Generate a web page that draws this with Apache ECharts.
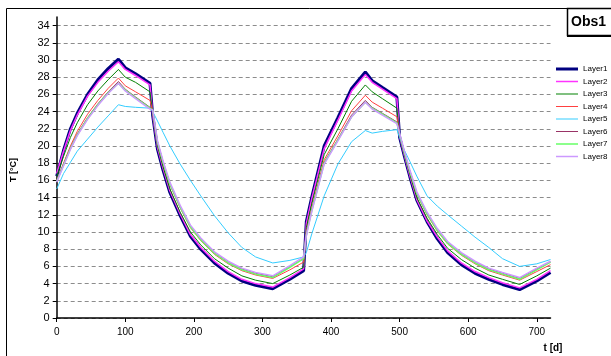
<!DOCTYPE html>
<html>
<head>
<meta charset="utf-8">
<script src="https://cdn.jsdelivr.net/npm/echarts@6/dist/echarts.min.js"></script>
<style>
  html, body { margin: 0; padding: 0; background: #fff; }
  #chart { width: 611px; height: 356px; }
</style>
</head>
<body>
<div id="chart"></div>
<script>
// time axis (days)
const days = [0, 10, 20, 30, 45, 60, 75, 90, 100, 115, 136, 140, 147, 155, 165, 180, 195, 210, 230, 250, 270, 290, 315, 340,
  360, 364, 372, 390, 410, 430, 450, 460, 475, 496, 500, 507, 515, 525, 540, 555, 570, 590, 610, 630, 650, 675, 700, 720];

const layer1 = [16.5, 19.5, 22.0, 23.8, 26.0, 27.7, 29.0, 30.1, 29.1, 28.4, 27.3, 23.5, 19.6, 17.2, 14.6, 11.9, 9.5, 8.0, 6.4, 5.2, 4.3, 3.8, 3.4, 4.5,
  5.5, 11.2, 14.1, 20.0, 23.3, 26.7, 28.6, 27.6, 26.8, 25.7, 21.0, 18.8, 16.4, 13.7, 11.2, 9.2, 7.6, 6.2, 5.2, 4.5, 3.9, 3.3, 4.3, 5.3];
const layer2 = [16.8, 19.4, 21.8, 23.6, 25.8, 27.4, 28.7, 29.8, 28.9, 28.2, 27.1, 23.6, 19.8, 17.4, 14.8, 12.1, 9.7, 8.2, 6.6, 5.4, 4.5, 4.0, 3.6, 4.7,
  5.7, 11.0, 13.9, 19.7, 23.0, 26.4, 28.3, 27.4, 26.6, 25.5, 21.1, 18.9, 16.5, 13.8, 11.3, 9.4, 7.8, 6.4, 5.4, 4.7, 4.1, 3.5, 4.5, 5.5];
const layer3 = [16.5, 18.8, 21.0, 22.7, 24.8, 26.4, 27.7, 28.9, 28.0, 27.4, 26.3, 23.8, 20.0, 17.6, 15.0, 12.3, 10.0, 8.5, 6.9, 5.8, 4.9, 4.4, 4.0, 5.0,
  5.9, 10.5, 13.3, 19.0, 22.0, 25.2, 27.1, 26.3, 25.5, 24.4, 21.2, 19.0, 16.7, 14.0, 11.6, 9.7, 8.1, 6.8, 5.8, 5.0, 4.5, 3.9, 4.9, 5.8];
const layer4 = [16.0, 18.0, 20.0, 21.7, 23.7, 25.3, 26.7, 27.9, 27.0, 26.3, 25.3, 24.0, 20.3, 18.0, 15.5, 12.8, 10.5, 9.0, 7.4, 6.3, 5.5, 5.0, 4.6, 5.6,
  6.5, 10.0, 12.8, 18.4, 21.2, 24.1, 25.9, 25.1, 24.4, 23.4, 21.3, 19.2, 17.0, 14.4, 12.0, 10.1, 8.6, 7.3, 6.3, 5.5, 5.0, 4.4, 5.4, 6.2];
const layer5 = [15.0, 16.8, 18.1, 19.4, 20.8, 22.2, 23.5, 24.8, 24.6, 24.5, 24.4, 24.0, 22.9, 21.6, 20.0, 17.9, 16.0, 14.2, 11.9, 9.9, 8.2, 7.1, 6.4, 6.7,
  7.1, 7.6, 9.8, 14.2, 17.9, 20.5, 21.8, 21.5, 21.7, 21.9, 21.0, 19.5, 18.2, 16.5, 14.2, 13.0, 12.0, 10.7, 9.4, 8.2, 6.9, 6.0, 6.3, 6.8];
const layer6 = [15.9, 17.9, 19.8, 21.4, 23.3, 24.9, 26.3, 27.5, 26.6, 25.7, 24.5, 24.2, 20.5, 18.2, 15.7, 13.0, 10.7, 9.2, 7.6, 6.5, 5.7, 5.2, 4.8, 6.0,
  6.9, 9.8, 12.6, 18.1, 20.8, 23.6, 25.3, 24.5, 23.8, 22.8, 21.4, 19.3, 17.1, 14.6, 12.2, 10.3, 8.8, 7.5, 6.5, 5.7, 5.2, 4.6, 5.7, 6.5];
const layer7 = [15.9, 17.8, 19.7, 21.3, 23.2, 24.8, 26.2, 27.3, 26.5, 25.6, 24.4, 24.2, 20.4, 18.1, 15.6, 12.9, 10.6, 9.1, 7.5, 6.4, 5.6, 5.1, 4.7, 5.9,
  6.9, 9.7, 12.5, 18.0, 20.7, 23.4, 25.1, 24.4, 23.7, 22.7, 21.4, 19.2, 17.0, 14.5, 12.1, 10.2, 8.7, 7.4, 6.4, 5.6, 5.1, 4.5, 5.6, 6.5];
const layer8 = [15.8, 17.7, 19.6, 21.2, 23.1, 24.7, 26.1, 27.3, 26.4, 25.5, 24.3, 24.2, 20.6, 18.3, 15.8, 13.1, 10.8, 9.3, 7.7, 6.6, 5.8, 5.3, 4.9, 6.1,
  7.1, 9.6, 12.4, 17.9, 20.6, 23.4, 25.1, 24.3, 23.6, 22.6, 21.5, 19.4, 17.2, 14.7, 12.3, 10.4, 8.9, 7.6, 6.6, 5.8, 5.3, 4.7, 5.8, 6.6];

const layerNames = ["Layer1", "Layer2", "Layer3", "Layer4", "Layer5", "Layer6", "Layer7", "Layer8"];
const layerData = [layer1, layer2, layer3, layer4, layer5, layer6, layer7, layer8];
const layerColors = ["#000080", "#ff33ff", "#008000", "#ff4040", "#33ccff", "#993366", "#66ff66", "#cc99ff"];
const layerWidths = [3, 1.5, 1, 1, 1, 1, 1.5, 1.5];

const font = "'Liberation Sans', Arial, sans-serif";

// dashed grid on every tick except the top (35)
const gridColors = [];
for (let i = 0; i < 18; i++) gridColors.push("#8c8c8c");
gridColors.push("rgba(0,0,0,0)");

const chart = echarts.init(document.getElementById("chart"));
chart.setOption({
  animation: false,
  backgroundColor: "#fff",
  grid: { left: 56.7, right: 60.5, top: 17, bottom: 38 },
  legend: {
    orient: "vertical",
    left: 556,
    top: 65,
    padding: 0,
    itemWidth: 22,
    itemHeight: 10,
    itemGap: 4.5,
    textStyle: { fontSize: 8, color: "#000", fontFamily: font },
    data: layerNames.map((name, i) => ({
      name: name,
      icon: "path://M0,0H44V" + (layerWidths[i] * 2) + "H0Z"
    }))
  },
  xAxis: {
    type: "value",
    min: 0,
    max: 720,
    interval: 100,
    axisLine: { show: true, lineStyle: { color: "#000", width: 1.5 } },
    axisTick: { show: true, length: 4, lineStyle: { color: "#000" } },
    axisLabel: { showMaxLabel: false, fontSize: 10, color: "#000", margin: 9, fontFamily: font },
    splitLine: { show: false }
  },
  yAxis: {
    type: "value",
    min: 0,
    max: 35,
    interval: 2,
    axisLine: { show: true, lineStyle: { color: "#000", width: 1.5 } },
    axisTick: { show: true, length: 4, lineStyle: { color: "#000" } },
    axisLabel: { showMaxLabel: false, fontSize: 11, color: "#000", margin: 7, fontFamily: font },
    splitLine: { show: true, lineStyle: { color: gridColors, type: [4, 3], width: 1 } }
  },
  series: layerNames.map((name, i) => ({
    name: name,
    type: "line",
    symbol: "none",
    data: days.map((d, j) => [d, layerData[i][j]]),
    lineStyle: { color: layerColors[i], width: layerWidths[i] },
    itemStyle: { color: layerColors[i] }
  })),
  graphic: [
    { type: "rect", shape: { x: 6.5, y: 8.5, width: 700, height: 400 }, style: { fill: "none", stroke: "#000", lineWidth: 1 } },
    { type: "rect", shape: { x: 567.5, y: 8.5, width: 60, height: 27 }, style: { fill: "#fff", stroke: "#000", lineWidth: 1.5 } },
    { type: "line", shape: { x1: 567, y1: 36, x2: 611, y2: 36 }, style: { stroke: "#000", lineWidth: 2 } },
    { type: "text", x: 571, y: 22, style: { text: "Obs1", font: "bold 14px " + font, fill: "#000", verticalAlign: "middle" } },
    { type: "text", x: 14, y: 170, rotation: Math.PI / 2, style: { text: "T [°C]", font: "bold 9px " + font, fill: "#000", align: "center", verticalAlign: "middle" } },
    { type: "text", x: 553, y: 348, style: { text: "t [d]", font: "bold 10px " + font, fill: "#000", align: "center", verticalAlign: "middle" } }
  ]
});
</script>
</body>
</html>
